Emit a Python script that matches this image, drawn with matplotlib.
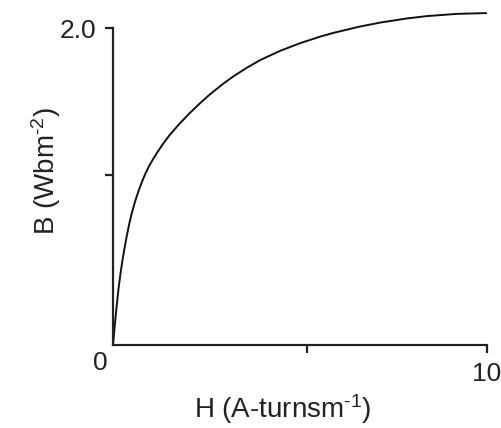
import matplotlib
matplotlib.use('Agg')
import matplotlib.pyplot as plt

# B-H magnetisation curve
h_vals = [0.0, 0.05, 0.10, 0.15, 0.20, 0.25, 0.30, 0.37, 0.43, 0.50, 0.59,
          0.68, 0.77, 0.86, 0.96, 1.07, 1.17, 1.34, 1.52, 1.79, 2.06, 2.33,
          2.59, 2.95, 3.22, 3.57, 3.93, 4.47, 5.00, 5.53, 5.89, 6.60, 7.14,
          7.85, 8.39, 9.19, 9.97]
b_vals = [0.0, 0.13, 0.25, 0.36, 0.45, 0.53, 0.60, 0.69, 0.76, 0.83, 0.905,
          0.97, 1.027, 1.078, 1.127, 1.172, 1.21, 1.27, 1.326, 1.399, 1.465,
          1.526, 1.581, 1.649, 1.695, 1.748, 1.797, 1.856, 1.904, 1.945,
          1.969, 2.009, 2.034, 2.060, 2.075, 2.089, 2.094]

x_ticks = [5.19, 10]
x_tick_labels = ['', '10']
y_ticks = [1.073, 2.0]
y_tick_labels = ['', '2.0']

plt.rcParams['font.family'] = ['Liberation Sans', 'DejaVu Sans']
plt.rcParams['mathtext.fontset'] = 'custom'
plt.rcParams['mathtext.rm'] = 'Liberation Sans'
plt.rcParams['mathtext.it'] = 'Liberation Sans'

ink = '#222222'

fig = plt.figure(figsize=(5.02, 4.28), dpi=100)
ax = fig.add_axes([113 / 502, 83 / 428, 374 / 502, 317 / 428])

ax.plot(h_vals, b_vals, color='#111111', lw=1.4, clip_on=False)

ax.set_xlim(0, 10)
ax.set_ylim(0, 2.0)
ax.spines['top'].set_visible(False)
ax.spines['right'].set_visible(False)
for s in ['left', 'bottom']:
    ax.spines[s].set_linewidth(1.6)
    ax.spines[s].set_color(ink)

ax.set_xticks(x_ticks)
ax.set_xticklabels(x_tick_labels)
ax.set_yticks(y_ticks)
ax.set_yticklabels(y_tick_labels)
ax.tick_params(length=6, width=1.6, color=ink, labelsize=19, pad=6,
               labelcolor=ink)

ax.text(-0.35, -0.04, '0', ha='center', va='top', fontsize=19, color=ink)

ax.set_xlabel(r'H (A-turnsm$^{\text{-}1}$)', fontsize=20, color=ink)
ax.set_ylabel(r'B (Wbm$^{\text{-}2}$)', fontsize=20, color=ink)
ax.xaxis.set_label_coords(0.455, -0.15)
ax.yaxis.set_label_coords(-0.135, 0.55)

fig.savefig('out.png', dpi=100)
